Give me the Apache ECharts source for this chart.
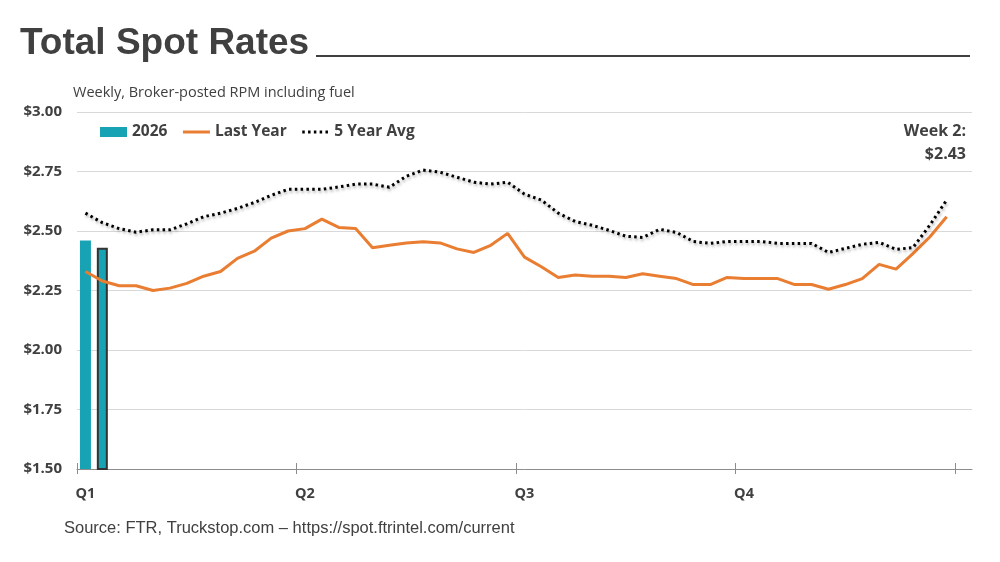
<!DOCTYPE html>
<html><head><meta charset="utf-8">
<script src="https://cdn.jsdelivr.net/npm/echarts@6/dist/echarts.min.js"></script>
<style>html,body{margin:0;padding:0;background:#fff}#c{width:1000px;height:562px}</style>
</head><body><div id="c"></div>
<script>
const weeks = ['W1','W2','W3','W4','W5','W6','W7','W8','W9','W10','W11','W12','W13','W14','W15','W16','W17','W18','W19','W20','W21','W22','W23','W24','W25','W26','W27','W28','W29','W30','W31','W32','W33','W34','W35','W36','W37','W38','W39','W40','W41','W42','W43','W44','W45','W46','W47','W48','W49','W50','W51','W52','W53'];
const quarterLabels = ['Q1','Q2','Q3','Q4'];
const yTicks = [1.50, 1.75, 2.00, 2.25, 2.50, 2.75, 3.00];
const rates2026 = [2.46, 2.43];
const lastYear = [2.33,2.29,2.27,2.27,2.25,2.26,2.28,2.31,2.33,2.385,2.415,2.47,2.50,2.51,2.55,2.515,2.51,2.43,2.44,2.45,2.455,2.45,2.425,2.41,2.44,2.49,2.39,2.35,2.305,2.315,2.31,2.31,2.305,2.32,2.31,2.30,2.275,2.275,2.305,2.30,2.30,2.30,2.275,2.275,2.255,2.275,2.30,2.36,2.34,2.405,2.475,2.56];
const fiveYearAvg = [2.575,2.535,2.51,2.495,2.505,2.505,2.53,2.56,2.575,2.595,2.62,2.65,2.675,2.675,2.675,2.685,2.697,2.697,2.684,2.73,2.756,2.747,2.726,2.705,2.697,2.705,2.655,2.63,2.575,2.54,2.524,2.503,2.478,2.473,2.507,2.494,2.456,2.448,2.456,2.456,2.456,2.448,2.448,2.448,2.41,2.427,2.444,2.452,2.423,2.43,2.524,2.63];
const highlightWeek = 1;

const TXT = '#404040';
const FONT = '"Open Sans", "Noto Sans", sans-serif';
const ORANGE = '#E97D31';

const chart = echarts.init(document.getElementById('c'), null, {renderer: 'canvas'});
const barData = rates2026.map((v, i) => i === highlightWeek
  ? {value: v, itemStyle: {borderColor: '#333333', borderWidth: 2}}
  : v);

chart.setOption({
  animation: false,
  backgroundColor: '#fff',
  grid: [
    {left: 77, right: 28, top: 112, bottom: 93},
    {left: 77, right: 45, top: 112, bottom: 93}
  ],
  legend: {
    data: [
      {name: '2026', icon: 'rect'},
      {name: 'Last Year', itemStyle: {opacity: 0}, lineStyle: {color: ORANGE, width: 3}},
      {name: '5 Year Avg', itemStyle: {opacity: 0}, lineStyle: {color: '#000', width: 3, type: [2.5, 3.3], shadowBlur: 0, shadowColor: 'transparent'}}
    ],
    left: 95, top: 119,
    itemWidth: 27, itemHeight: 10, itemGap: 14,
    textStyle: {fontFamily: FONT, fontWeight: 'bold', fontSize: 15.5, color: TXT}
  },
  xAxis: [
    {
      type: 'category', gridIndex: 0, data: weeks, boundaryGap: true,
      axisLine: {lineStyle: {color: '#8c8c8c', width: 1}},
      axisTick: {show: false},
      axisLabel: {
        interval: (i) => i % 13 === 0 && i < 52,
        formatter: (v, i) => quarterLabels[Math.round(i / 13)],
        fontFamily: FONT, fontWeight: 'bold', fontSize: 14.5, color: TXT, margin: 17
      },
      splitLine: {show: false}
    },
    {
      type: 'value', gridIndex: 1, min: 0, max: 52, interval: 13, offset: -6,
      axisLine: {show: false},
      axisLabel: {show: false},
      splitLine: {show: false},
      axisTick: {show: true, length: 11, lineStyle: {color: '#8c8c8c', width: 1}}
    }
  ],
  yAxis: [
    {
      type: 'value', gridIndex: 0, min: yTicks[0], max: yTicks[yTicks.length - 1], interval: 0.25,
      axisLine: {show: false}, axisTick: {show: false},
      axisLabel: {formatter: (v) => '$' + v.toFixed(2), fontFamily: FONT, fontWeight: 'bold', fontSize: 15, color: TXT, margin: 15},
      splitLine: {lineStyle: {color: '#d9d9d9', width: 1}}
    },
    {type: 'value', gridIndex: 1, min: 1.5, max: 3, show: false}
  ],
  series: [
    {
      name: '2026', type: 'bar', xAxisIndex: 0, yAxisIndex: 0,
      data: barData, barWidth: 11,
      itemStyle: {color: '#17A3B3'}, z: 1
    },
    {
      name: 'Last Year', type: 'line', xAxisIndex: 0, yAxisIndex: 0,
      data: lastYear, symbol: 'none', showSymbol: false,
      lineStyle: {color: ORANGE, width: 3}, itemStyle: {color: ORANGE}, z: 3
    },
    {
      name: '5 Year Avg', type: 'line', xAxisIndex: 0, yAxisIndex: 0,
      data: fiveYearAvg, symbol: 'none', showSymbol: false,
      lineStyle: {color: '#000', width: 3, type: [2.5, 3.3],
        shadowColor: 'rgba(0,0,0,0.35)', shadowBlur: 3, shadowOffsetX: 1, shadowOffsetY: 2},
      itemStyle: {color: '#000'}, z: 4
    }
  ],
  graphic: [
    {type: 'text', x: 20, y: 44, style: {text: 'Total Spot Rates', font: 'bold 37px "Liberation Sans", Arial, sans-serif', fill: TXT, verticalAlign: 'middle', align: 'left'}},
    {type: 'line', shape: {x1: 316, y1: 56, x2: 970, y2: 56}, style: {stroke: TXT, lineWidth: 2}},
    {type: 'text', x: 73, y: 93, style: {text: 'Weekly, Broker-posted RPM including fuel', font: '14.5px ' + FONT, fill: TXT, verticalAlign: 'middle', align: 'left'}},
    {type: 'text', x: 966, y: 131, style: {text: 'Week 2:', font: 'bold 16px ' + FONT, fill: TXT, verticalAlign: 'middle', align: 'right'}},
    {type: 'text', x: 966, y: 154, style: {text: '$' + rates2026[highlightWeek].toFixed(2), font: 'bold 16px ' + FONT, fill: TXT, verticalAlign: 'middle', align: 'right'}},
    {type: 'text', x: 64, y: 528, style: {text: 'Source: FTR, Truckstop.com \u2013 https://spot.ftrintel.com/current', font: '16.5px "Liberation Sans", Arial, sans-serif', fill: TXT, verticalAlign: 'middle', align: 'left'}}
  ]
});
</script></body></html>
